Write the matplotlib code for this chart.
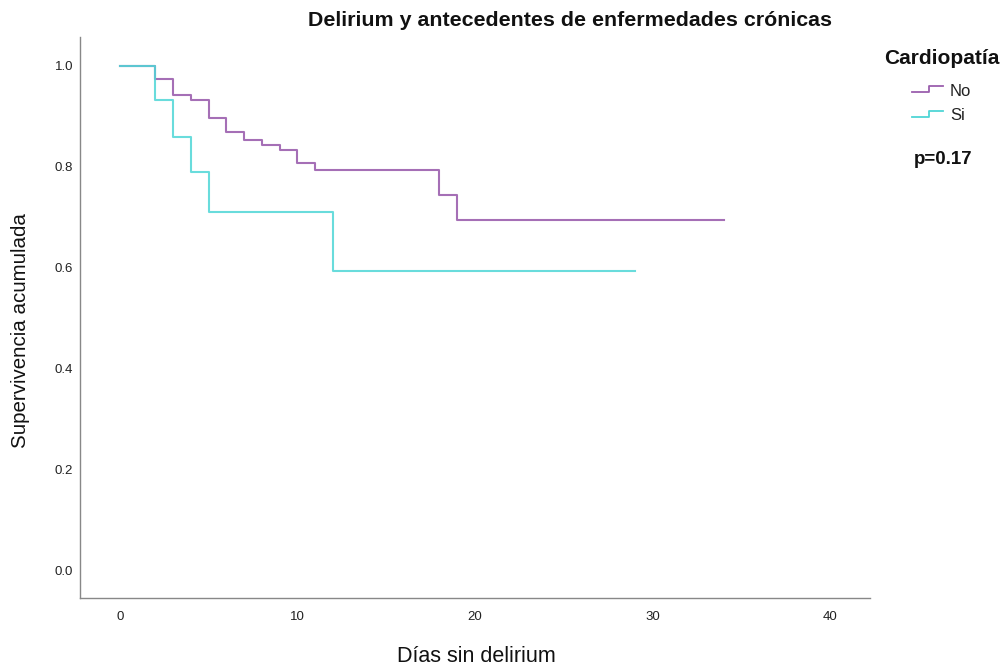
import matplotlib
matplotlib.use("Agg")
import matplotlib.pyplot as plt
from matplotlib.lines import Line2D

plt.rcParams['font.family'] = ['Liberation Sans', 'DejaVu Sans']

# Kaplan-Meier estimates: step times (days) and survival after each step
no_times = [0, 2, 3, 4, 5, 6, 7, 8, 9, 10, 11, 18, 19, 34]
no_surv = [1.0, 0.974, 0.943, 0.933, 0.897, 0.868, 0.853, 0.843, 0.834, 0.807, 0.793, 0.745, 0.695, 0.695]

si_times = [0, 2, 3, 4, 5, 12, 29]
si_surv = [1.0, 0.933, 0.860, 0.789, 0.711, 0.593, 0.593]

groups = ["No", "Si"]
colors = {"No": "#9b5fae", "Si": "#4fd6d6"}
p_text = "p=0.17"

xticks = [0, 10, 20, 30, 40]
yticks = [0.0, 0.2, 0.4, 0.6, 0.8, 1.0]

fig = plt.figure(figsize=(10.08, 6.69), dpi=100)
ax = fig.add_axes([80 / 1008, 1 - 598 / 669, 790 / 1008, 561 / 669])

ax.step(no_times, no_surv, where="post", color=colors["No"], lw=1.5, alpha=0.9)
ax.step(si_times, si_surv, where="post", color=colors["Si"], lw=1.5, alpha=0.85)

ax.set_xlim(-2.25, 42.25)
ax.set_ylim(-0.0535, 1.057)
ax.set_xticks(xticks)
ax.set_xticklabels([str(t) for t in xticks])
ax.set_yticks(yticks)
ax.set_yticklabels([f"{t:.1f}" for t in yticks])
ax.tick_params(length=0, labelsize=9.5, colors="#222222")
ax.tick_params(axis="x", pad=9)
ax.tick_params(axis="y", pad=5)

for side in ("top", "right"):
    ax.spines[side].set_visible(False)
for side in ("left", "bottom"):
    ax.spines[side].set_color("#888888")
    ax.spines[side].set_linewidth(1.0)

fig.text(570 / 1008, 1 - 21 / 669, "Delirium y antecedentes de enfermedades crónicas",
         ha="center", va="center", fontsize=15.4, fontweight="bold", color="#111111")
fig.text(21 / 1008, 1 - 331 / 669, "Supervivencia acumulada", rotation=90,
         ha="center", va="center", fontsize=14.8, color="#111111")
fig.text(476 / 1008, 1 - 656 / 669, "Días sin delirium",
         ha="center", va="center", fontsize=15.5, color="#111111")

# legend
fig.text(942 / 1008, 1 - 58 / 669, "Cardiopatía", ha="center", va="center",
         fontsize=15, fontweight="bold", color="#111111")
for i, g in enumerate(groups):
    yl = 92 + i * 24.5
    yh = yl - 6
    xs = [912 / 1008, 929 / 1008, 929 / 1008, 943 / 1008]
    ys = [1 - yl / 669, 1 - yl / 669, 1 - yh / 669, 1 - yh / 669]
    fig.add_artist(Line2D(xs, ys, color=colors[g], lw=1.3, transform=fig.transFigure))
    fig.text(950 / 1008, 1 - (yl - 1) / 669, g, ha="left", va="center",
             fontsize=12, color="#222222")

fig.text(943 / 1008, 1 - 160 / 669, p_text, ha="center", va="center",
         fontsize=13.5, fontweight="bold", color="#111111")

fig.savefig("out.png", dpi=100, facecolor="white")
